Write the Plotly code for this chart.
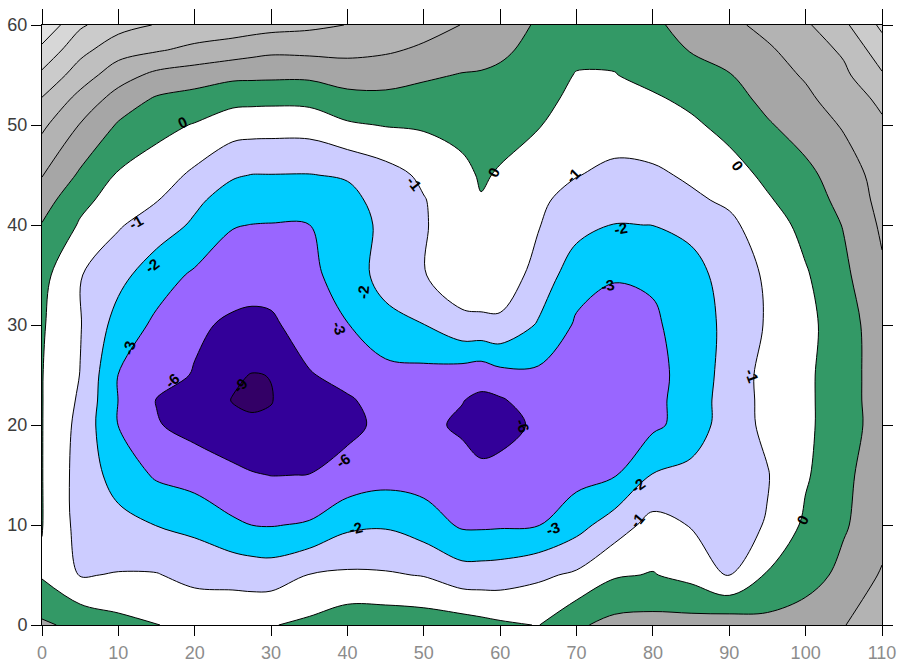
import numpy as np
import plotly.graph_objects as go

# ---- grid coordinates (data units) ----
x_vals = [0, 5, 10, 15, 20, 25, 27.5, 30, 35, 40, 45, 50, 55, 57.5, 60,
          65, 70, 75, 80, 85, 90, 95, 100, 105, 110]
y_vals = [0, 5, 10, 15, 20, 22.5, 25, 30, 35, 40, 42.5, 45, 50, 52.5, 55, 57.5, 60]

# ---- z values, one row per y ----
z_y00 = [1.15, 0.75, 0.3, 0.02, -0.2, -0.3, -0.2, -0.05, 0.2, 0.6, 0.6, 0.55, 0.45, 0.3, 0.15,
         -0.03, 0.85, 1.3, 1.35, 1.4, 1.6, 1.3, 1.5, 1.95, 2.8]
z_y05 = [-0.1, -1.05, -0.95, -0.95, -1.28, -1.3, -1.4, -1.45, -0.97, -0.85, -0.9, -1.05, -1.55, -1.55, -1.5,
         -1.17, -0.85, -0.1, 0.05, -0.3, -1.1, 0.1, 0.6, 1.25, 2.1]
z_y10 = [0.03, -1.35, -1.7, -2.02, -2.25, -2.85, -3.02, -3.15, -2.9, -2.2, -2.1, -2.5, -3.4, -3.45, -3.35,
         -3.1, -2.35, -1.5, -0.65, -1.05, -1.3, -0.95, 0.2, 0.9, 1.6]
z_y15 = [0.03, -1.4, -2.4, -3.4, -4.3, -5.2, -5.8, -6.05, -5.97, -5.0, -4.15, -4.3, -5.0, -5.5, -5.3,
         -4.6, -4.0, -3.2, -1.95, -1.7, -1.4, -1.05, -0.12, 0.8, 1.5]
z_y20 = [0.03, -1.3, -3.05, -5.8, -7.0, -8.4, -8.5, -8.6, -7.5, -6.7, -5.3, -5.4, -6.4, -7.0, -6.8,
         -5.6, -4.9, -4.5, -3.6, -2.6, -1.45, -0.8, -0.2, 0.6, 1.4]
z_y22 = [0.03, -1.15, -3.05, -6.1, -7.4, -9.1, -9.5, -9.1, -7.2, -6.3, -5.0, -5.0, -5.9, -6.5, -6.3,
         -4.6, -4.3, -4.3, -3.7, -2.6, -1.5, -0.75, -0.2, 0.6, 1.45]
z_y25 = [0.03, -1.02, -3.05, -4.8, -6.2, -8.6, -9.1, -8.95, -6.2, -5.1, -4.0, -3.9, -4.5, -5.0, -4.0,
         -3.6, -3.9, -4.1, -3.7, -2.7, -1.55, -0.7, -0.2, 0.6, 1.45]
z_y30 = [0.1, -0.95, -2.4, -3.6, -5.5, -6.5, -6.6, -6.5, -4.6, -3.1, -2.3, -2.02, -1.3, -1.25, -1.2,
         -2.1, -3.4, -3.8, -3.5, -2.5, -1.75, -0.9, -0.3, 0.6, 1.5]
z_y35 = [0.3, -0.95, -1.7, -2.55, -3.45, -4.6, -5.0, -4.8, -3.8, -2.5, -1.65, -1.05, -0.35, -0.3, -0.4,
         -1.35, -2.6, -2.95, -2.85, -2.35, -1.6, -0.85, -0.1, 0.8, 1.85]
z_y40 = [0.95, -0.1, -0.9, -1.5, -2.15, -2.95, -3.05, -3.1, -3.02, -2.6, -1.7, -1.1, -0.3, -0.2, -0.4,
         -0.95, -1.65, -2.03, -1.99, -1.75, -1.2, -0.5, 0.3, 1.05, 2.15]
z_y42 = [1.45, 0.25, -0.4, -0.95, -1.8, -2.45, -2.5, -2.6, -2.55, -2.3, -1.6, -1.05, -0.35, -0.06, -0.3,
         -0.85, -1.3, -1.6, -1.55, -1.15, -0.85, -0.1, 0.5, 1.3, 2.3]
z_y45 = [2.05, 0.85, -0.1, -0.5, -1.2, -1.9, -2.02, -2.02, -2.03, -1.9, -1.4, -0.8, -0.3, 0.12, -0.1,
         -0.45, -0.97, -1.2, -1.15, -0.87, -0.4, 0.2, 0.75, 1.5, 2.4]
z_y50 = [3.2, 1.95, 0.9, 0.3, -0.06, -0.55, -0.6, -0.62, -0.6, -0.13, 0.05, 0.12, 0.37, 0.35, 0.38,
         0.05, -0.5, -0.6, -0.48, -0.17, 0.3, 0.9, 1.45, 2.1, 2.85]
z_y52 = [3.9, 2.65, 1.55, 0.85, 0.6, 0.26, 0.22, 0.2, 0.25, 0.65, 0.73, 0.6, 0.65, 0.6, 0.6,
         0.35, -0.3, -0.35, -0.15, 0.2, 0.6, 1.25, 1.8, 2.45, 3.2]
z_y55 = [4.8, 3.5, 2.45, 1.75, 1.5, 1.24, 1.22, 1.2, 1.2, 1.45, 1.4, 1.15, 0.95, 0.92, 0.85,
         0.5, -0.05, -0.03, 0.3, 0.65, 0.95, 1.6, 2.1, 2.8, 3.9]
z_y57 = [5.75, 4.3, 3.4, 3.1, 2.75, 2.5, 2.33, 2.2, 2.25, 2.27, 2.13, 1.85, 1.5, 1.35, 1.15,
         0.75, 0.25, 0.2, 0.55, 1.05, 1.4, 1.85, 2.5, 3.15, 4.55]
z_y60 = [6.8, 5.15, 4.35, 3.95, 3.7, 3.55, 3.45, 3.35, 3.2, 2.98, 2.65, 2.35, 1.98, 1.7, 1.4,
         0.9, 0.6, 0.5, 0.85, 1.3, 1.75, 2.3, 2.85, 3.8, 5.2]

# ---- contour levels and band colours ----
contour_levels = [-9, -6, -3, -2, -1, 0, 1, 2, 3, 4, 5, 6]
band_colors = ["#330066",  # < -9
               "#330099",  # -9 .. -6
               "#9966ff",  # -6 .. -3
               "#00ccff",  # -3 .. -2
               "#ccccff",  # -2 .. -1
               "#ffffff",  # -1 .. 0
               "#339966",  # 0 .. 1
               "#a6a6a6",  # 1 .. 2
               "#b3b3b3",  # 2 .. 3
               "#bfbfbf",  # 3 .. 4
               "#cbcbcb",  # 4 .. 5
               "#d7d7d7",  # 5 .. 6
               "#e3e3e3"]  # > 6

x_ticks = [0, 10, 20, 30, 40, 50, 60, 70, 80, 90, 100, 110]
y_ticks = [0, 10, 20, 30, 40, 50, 60]

# ---- contour line labels ----
lbl_x = [18.3, 59.1, 91.1, 99.5, 12.2, 48.8, 69.5, 93.0, 77.9, 14.4, 42.0, 75.7, 78.0, 41.0,
         11.3, 39.0, 74.0, 66.9, 17.0, 39.4, 63.0, 25.9]
lbl_y = [50.3, 45.3, 46.0, 10.5, 40.3, 44.2, 45.0, 25.0, 10.5, 36.0, 33.3, 39.7, 14.0, 9.7,
         27.7, 29.7, 34.0, 9.7, 24.5, 16.5, 20.0, 24.0]
lbl_text = ["0", "0", "0", "0", "-1", "-1", "-1", "-1", "-1", "-2", "-2", "-2", "-2", "-2",
            "-3", "-3", "-3", "-3", "-6", "-6", "-6", "-9"]
lbl_angle = [-25, -64, 54, -65, -30, 52, -45, 70, -50, -37, -85, -10, -35, -15,
             -75, 70, -10, -20, -42, -35, 70, -45]

# ---------------------------------------------------------------
z = np.array([z_y00, z_y05, z_y10, z_y15, z_y20, z_y22, z_y25, z_y30, z_y35,
              z_y40, z_y42, z_y45, z_y50, z_y52, z_y55, z_y57, z_y60], dtype=float)

# map irregular levels onto evenly spaced level indices
lv_ext = [-12.0] + contour_levels + [7.0]
z_idx = np.interp(z, lv_ext, np.arange(len(lv_ext)))

n_levels = len(contour_levels)
colorscale = [[k / n_levels, band_colors[k]] for k in range(n_levels + 1)]

fig = go.Figure()
fig.add_trace(go.Contour(
    x=x_vals, y=y_vals, z=z_idx,
    autocontour=False,
    contours=dict(start=1, end=n_levels, size=1, coloring="fill", showlabels=False),
    colorscale=colorscale,
    showscale=False,
    line=dict(color="black", width=1, smoothing=1.0),
    hoverinfo="skip",
))
# helper trace to display the top axis
fig.add_trace(go.Scatter(x=[None], y=[None], xaxis="x2", yaxis="y",
                         showlegend=False, hoverinfo="skip"))

for xx, yy, tt, aa in zip(lbl_x, lbl_y, lbl_text, lbl_angle):
    fig.add_annotation(x=xx, y=yy, text="<b>" + tt + "</b>", showarrow=False,
                       textangle=aa, font=dict(family="Liberation Sans", size=15, color="black"))

fig.update_layout(
    width=898, height=664, autosize=False,
    margin=dict(l=42, r=16, t=25, b=39, pad=0, autoexpand=False),
    paper_bgcolor="white", plot_bgcolor="white",
    showlegend=False,
    xaxis=dict(range=[0, 110], tickmode="array", tickvals=x_ticks, automargin=False,
               ticks="outside", ticklen=10, tickwidth=1, tickcolor="black",
               showline=True, linecolor="black", linewidth=1, mirror=False,
               showgrid=False, zeroline=False, ticklabelstandoff=1,
               tickfont=dict(family="Liberation Sans Narrow, Liberation Sans, Arial",
                             size=18, color="#8c8c8c")),
    xaxis2=dict(range=[0, 110], overlaying="x", side="top", anchor="y", automargin=False,
                tickmode="array", tickvals=x_ticks, showticklabels=False,
                ticks="outside", ticklen=15, tickwidth=1, tickcolor="black",
                showline=True, linecolor="black", linewidth=1,
                showgrid=False, zeroline=False),
    yaxis=dict(range=[0, 60], tickmode="array", tickvals=y_ticks, automargin=False,
               ticks="outside", ticklen=10, tickwidth=1, tickcolor="black",
               showline=True, linecolor="black", linewidth=1, mirror="ticks",
               showgrid=False, zeroline=False,
               tickfont=dict(family="Liberation Sans", size=18, color="#3c3c3c")),
)

fig.write_html("out.html",
               config={"displayModeBar": False},
               post_script="document.body.style.margin='0';document.body.style.overflow='hidden';")
